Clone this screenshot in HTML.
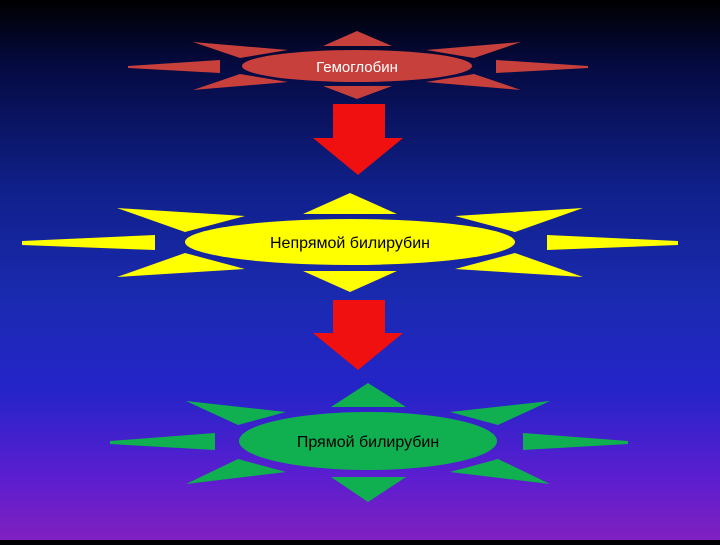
<!DOCTYPE html>
<html><head><meta charset="utf-8"><style>
html,body{margin:0;padding:0}
body{width:720px;height:540px;overflow:hidden;background:linear-gradient(to bottom,#000 0%,#050a40 12%,#10208a 35%,#1a2ab0 55%,#2424c8 72%,#5a1ed0 88%,#8020c0 100%)}
text{font-family:"Liberation Sans","DejaVu Sans",sans-serif}
</style></head><body>
<svg width="720" height="540" viewBox="0 0 720 540" xmlns="http://www.w3.org/2000/svg">
<!-- Red group, center 357,66 -->
<g fill="#c8403c">
<polygon points="357,31 323,46 392,46"/>
<polygon points="323,86 392,86 357,99"/>
<polygon points="193,42 288,50 240,58"/>
<polygon points="193,90 288,82 240,74"/>
<polygon points="521,42 426,50 474,58"/>
<polygon points="521,90 426,82 474,74"/>
<polygon points="128,66 220,60 220,73 128,68"/>
<polygon points="588,66 496,60 496,73 588,68"/>
<ellipse cx="357" cy="66" rx="115" ry="16"/>
</g>
<text x="357" y="72" font-size="15" fill="#fff" text-anchor="middle">Гемоглобин</text>

<!-- Arrow 1 -->
<polygon fill="#f01010" points="333,104 385,104 385,138 403,138 358,175 313,138 333,138"/>

<!-- Yellow group, center 350,242 -->
<g fill="#ffff00">
<polygon points="350,193 303,214 397,214"/>
<polygon points="303,271 397,271 350,292"/>
<polygon points="117,208 245,216 185,232"/>
<polygon points="117,277 245,269 185,253"/>
<polygon points="583,208 455,216 515,232"/>
<polygon points="583,277 455,269 515,253"/>
<polygon points="22,241 155,235 155,250 22,245"/>
<polygon points="678,241 547,235 547,250 678,245"/>
<ellipse cx="350" cy="242" rx="165" ry="23"/>
</g>
<text x="350" y="248" font-size="16" fill="#000" text-anchor="middle">Непрямой билирубин</text>

<!-- Arrow 2 -->
<polygon fill="#f01010" points="333,300 385,300 385,333 403,333 358,370 313,333 333,333"/>

<!-- Green group, center 368,441 -->
<g fill="#10b050">
<polygon points="368,383 331,407 406,407"/>
<polygon points="331,477 406,477 368,502"/>
<polygon points="186,401 286,412 238,425"/>
<polygon points="186,484 286,472 238,459"/>
<polygon points="550,401 450,412 498,425"/>
<polygon points="550,484 450,472 498,459"/>
<polygon points="110,441 215,433 215,450 110,444"/>
<polygon points="628,441 523,433 523,450 628,444"/>
<ellipse cx="368" cy="441" rx="129" ry="29"/>
</g>
<text x="368" y="447" font-size="16" fill="#000" text-anchor="middle">Прямой билирубин</text>
</svg>
</body></html>
